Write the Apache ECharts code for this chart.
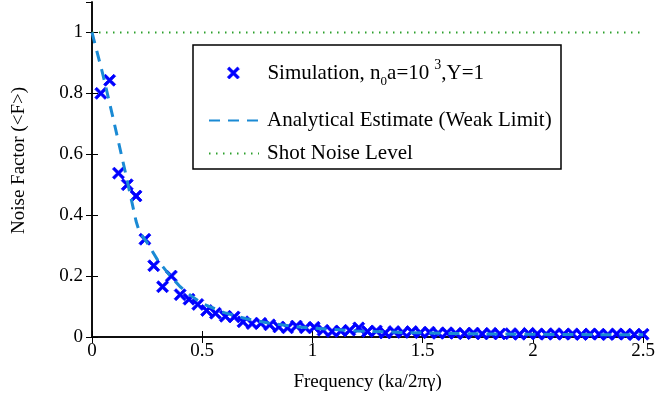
<!DOCTYPE html>
<html>
<head>
<meta charset="utf-8">
<script src="https://cdn.jsdelivr.net/npm/echarts@6/dist/echarts.min.js"></script>
<style>
  html, body { margin: 0; padding: 0; background: #fff; }
  #chart { width: 658px; height: 405px; }
</style>
</head>
<body>
<div id="chart"></div>
<script>
// simulation points (blue crosses)
const simX = [0.04, 0.08, 0.12, 0.16, 0.20, 0.24, 0.28, 0.32, 0.36, 0.40,
  0.44, 0.48, 0.52, 0.56, 0.605, 0.645, 0.685, 0.726, 0.766, 0.806,
  0.847, 0.887, 0.927, 0.968, 1.008, 1.048, 1.089, 1.129, 1.169, 1.21,
  1.25, 1.29, 1.33, 1.37, 1.41, 1.45, 1.49, 1.53, 1.57, 1.61,
  1.65, 1.69, 1.73, 1.77, 1.81, 1.85, 1.90, 1.94, 1.98, 2.02,
  2.06, 2.10, 2.14, 2.18, 2.22, 2.26, 2.30, 2.34, 2.38, 2.42,
  2.46, 2.50]
const simY = [0.80, 0.843, 0.538, 0.50, 0.463, 0.321, 0.234, 0.165, 0.20, 0.139,
  0.124, 0.107, 0.087, 0.078, 0.068, 0.066, 0.05, 0.044, 0.045, 0.04,
  0.033, 0.03, 0.036, 0.03, 0.032, 0.022, 0.018, 0.02, 0.022, 0.03,
  0.018, 0.02, 0.013, 0.018, 0.015, 0.018, 0.014, 0.016, 0.012, 0.014,
  0.012, 0.011, 0.013, 0.01, 0.012, 0.01, 0.011, 0.009, 0.012, 0.01,
  0.009, 0.011, 0.009, 0.01, 0.008, 0.01, 0.009, 0.008, 0.01, 0.009,
  0.008, 0.009]

// analytical estimate (dashed)
const anaX = [0, 0.05, 0.10, 0.15, 0.20, 0.215, 0.25, 0.30, 0.35, 0.40, 0.45,
  0.50, 0.60, 0.70, 0.80, 0.90, 1.00, 1.20, 1.40, 1.60, 1.80, 2.00, 2.20, 2.50]
const anaY = [1.0, 0.86, 0.705, 0.545, 0.38, 0.345, 0.31, 0.25, 0.205, 0.165, 0.135,
  0.11, 0.08, 0.06, 0.046, 0.036, 0.029, 0.02, 0.015, 0.012, 0.01, 0.009, 0.008, 0.007]

// shot noise level
const shotX = [0, 2.5]
const shotY = [1, 1]

const xTicks = [0, 0.5, 1, 1.5, 2, 2.5]
const yTicks = [0, 0.2, 0.4, 0.6, 0.8, 1]

const zip = (xs, ys) => xs.map((x, i) => [x, ys[i]])

const FONT = 'Liberation Serif'
const crossPath = 'path://M0,1.6 L1.6,0 L5,3.4 L8.4,0 L10,1.6 L6.6,5 L10,8.4 L8.4,10 L5,6.6 L1.6,10 L0,8.4 L3.4,5 Z'
const simName = 'Simulation, n{sub|0}a=10{sup|3},Y=1'
const anaName = 'Analytical Estimate (Weak Limit)'
const shotName = 'Shot Noise Level'

const axisBase = {
  type: 'value',
  axisLine: { lineStyle: { color: '#000', width: 1.5 } },
  axisTick: { inside: true, length: 6, lineStyle: { color: '#000', width: 1 } },
  splitLine: { show: false }
}

const legendText = {
  fontFamily: FONT,
  fontSize: 21,
  color: '#000',
  rich: {
    sub: { fontFamily: FONT, fontSize: 13, verticalAlign: 'bottom', lineHeight: 30 },
    sup: { fontFamily: FONT, fontSize: 14, verticalAlign: 'top', lineHeight: 30, padding: [0, 0, 0, 5] }
  }
}

const chart = echarts.init(document.getElementById('chart'), null, { renderer: 'canvas' })

chart.setOption({
  animation: false,
  backgroundColor: '#fff',
  grid: { left: 92, right: 13, top: 2, bottom: 68 },
  xAxis: [
    {
      ...axisBase,
      min: xTicks[0], max: xTicks[xTicks.length - 1], interval: 0.5,
      name: 'Frequency (ka/2πγ)',
      nameLocation: 'middle',
      nameGap: 36,
      nameTextStyle: { fontFamily: FONT, fontSize: 19, color: '#000' },
      axisLabel: { fontFamily: FONT, fontSize: 19, color: '#000', margin: 5 }
    },
    {
      ...axisBase,
      position: 'top',
      min: 0, max: 2.5, interval: 0.5,
      axisLabel: { show: false }
    }
  ],
  yAxis: [
    {
      ...axisBase,
      min: yTicks[0], max: 1.1, interval: 0.2,
      name: 'Noise Factor (<F>)',
      nameLocation: 'middle',
      nameGap: 63,
      nameTextStyle: { fontFamily: FONT, fontSize: 19, color: '#000', padding: [0, 0, 0, 18] },
      axisLabel: { fontFamily: FONT, fontSize: 19, color: '#000', margin: 9, showMaxLabel: false }
    },
    {
      ...axisBase,
      position: 'right',
      min: 0, max: 1.1, interval: 0.2,
      axisLabel: { show: false }
    }
  ],
  legend: [
    {
      data: [{ name: simName, icon: crossPath }],
      left: 222, top: 53,
      itemWidth: 12, itemHeight: 12,
      itemStyle: { borderColor: '#0000ff', borderWidth: 0.8 },
      textStyle: { ...legendText, padding: [0, 0, 0, 23] }
    },
    {
      data: [anaName],
      left: 203, top: 105,
      itemWidth: 50, itemHeight: 14,
      itemStyle: { opacity: 0 },
      textStyle: { ...legendText, padding: [0, 0, 0, 3] }
    },
    {
      data: [shotName],
      left: 203, top: 138,
      itemWidth: 50, itemHeight: 14,
      itemStyle: { opacity: 0 },
      textStyle: { ...legendText, padding: [0, 0, 0, 3] }
    }
  ],
  graphic: [
    {
      type: 'rect',
      shape: { x: 193, y: 45, width: 368, height: 124 },
      style: { fill: '#fff', stroke: '#000', lineWidth: 1.5 },
      z: 0
    }
  ],
  series: [
    {
      name: shotName,
      type: 'line',
      data: zip(shotX, shotY),
      symbol: 'none',
      lineStyle: { color: '#2ca02c', width: 2, type: [1.5, 5.5] },
      itemStyle: { color: '#2ca02c' },
      z: 1
    },
    {
      name: simName,
      type: 'scatter',
      data: zip(simX, simY),
      symbol: crossPath,
      symbolSize: 12,
      itemStyle: { color: '#0000ff', borderColor: '#0000ff', borderWidth: 0.8, opacity: 1 },
      z: 2
    },
    {
      name: anaName,
      type: 'line',
      data: zip(anaX, anaY),
      symbol: 'none',
      lineStyle: { color: '#1a8ad4', width: 3, type: [11, 8] },
      itemStyle: { color: '#1a8ad4' },
      z: 3
    }
  ]
})
</script>
</body>
</html>
